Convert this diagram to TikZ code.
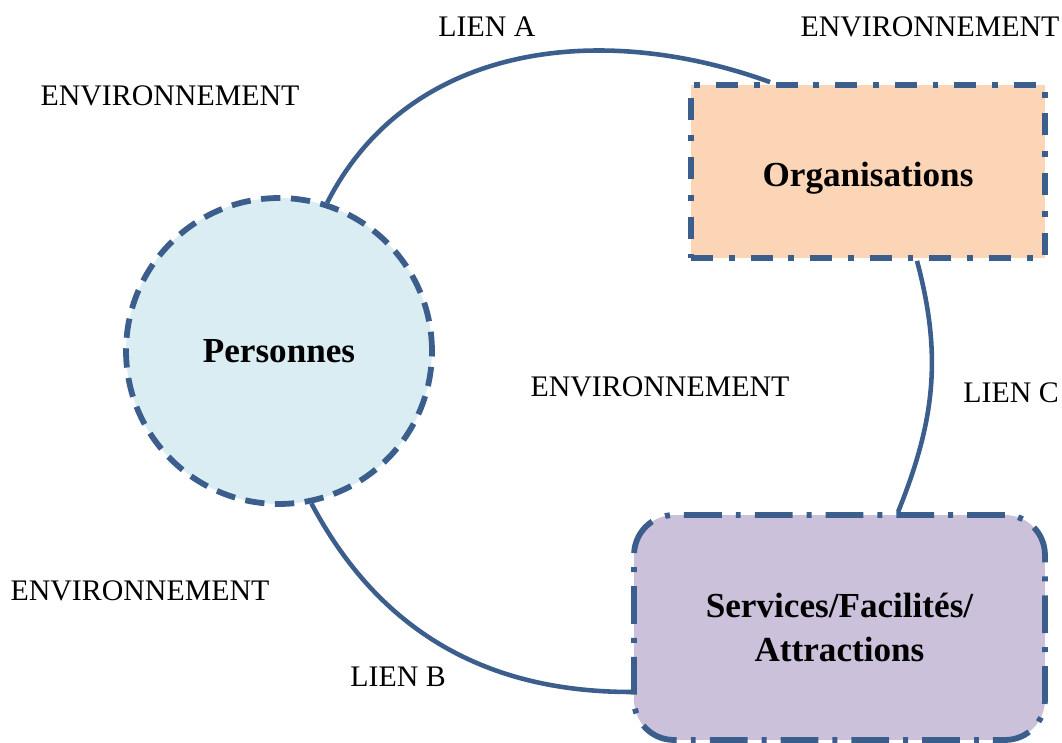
\documentclass[tikz,border=0pt]{standalone}
\usepackage{fontspec}
\setmainfont{Liberation Serif}
\usepackage{tikz}
\usetikzlibrary{shapes, calc}
\definecolor{lienblue}{HTML}{3B5E8C}
\definecolor{persfill}{HTML}{DAEDF3}
\definecolor{orgfill}{HTML}{FBD5B5}
\definecolor{servfill}{HTML}{CCC1DA}

\begin{document}
\begin{tikzpicture}[x=0.02cm, y=-0.02cm,
lien/.style={draw=lienblue, line width=2.6pt},
envtext/.style={font=\fontsize{17}{20}\selectfont},
boxtext/.style={font=\fontsize{20}{25}\selectfont\bfseries, align=center},
persbox/.style={circle, draw=lienblue, fill=persfill, line width=3.3pt,
  dash pattern=on 11pt off 6pt, minimum size=6.12cm, boxtext},
orgbox/.style={rectangle, draw=lienblue, fill=orgfill, line width=3.3pt,
  dash pattern=on 12.5pt off 9pt on 3.4pt off 9pt, minimum width=7.08cm,
  minimum height=3.46cm, text height=0.75cm, boxtext},
servbox/.style={rectangle, rounded corners=0.8cm, draw=lienblue, fill=servfill,
  line width=3.3pt, dash pattern=on 21.5pt off 8pt on 2.8pt off 8pt,
  minimum width=8.22cm, minimum height=4.5cm, boxtext}
]
\useasboundingbox (0,0) rectangle (1062,743);

\node[persbox] (pers) at (279,351) {Personnes};
\node[orgbox] (org) at (868,171.5) {Organisations};
\node[servbox] (serv) at (839.5,627.5) {Services/Facilités/\\Attractions};

% liens
\draw[lien] (pers.72) to[out=63, in=160] ([xshift=-1.96cm]org.north);
\draw[lien] ([xshift=0.98cm]org.south) to[out=-75, in=68] ([xshift=1.17cm]serv.north);
\draw[lien] (pers.-78) to[out=-62, in=180] ([yshift=-1.29cm]serv.west);

\node[envtext] (la) at (487,27) {LIEN A};
\node[envtext] (lb) at (398,677) {LIEN B};
\node[envtext] (lc) at (1011,393) {LIEN C};

\node[envtext] (env1) at (930,27) {ENVIRONNEMENT};
\node[envtext] (env2) at (170,96) {ENVIRONNEMENT};
\node[envtext] (env3) at (660,387) {ENVIRONNEMENT};
\node[envtext] (env4) at (140,591) {ENVIRONNEMENT};
\end{tikzpicture}
\end{document}
